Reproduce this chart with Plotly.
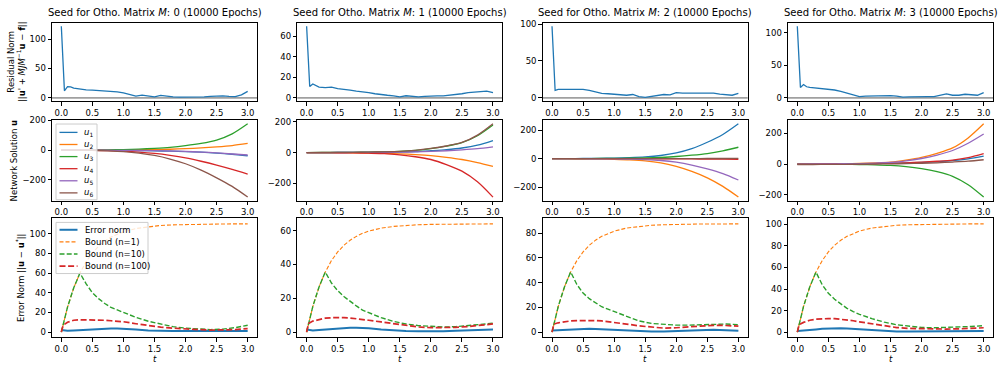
import plotly.graph_objects as go

W, H = 1000, 368
FONT = "DejaVu Sans"
BLUE, ORANGE, GREEN, RED, PURPLE, BROWN = "#1f77b4", "#ff7f0e", "#2ca02c", "#d62728", "#9467bd", "#8c564b"
SOL_COLORS = [BLUE, ORANGE, GREEN, RED, PURPLE, BROWN]

# ---------------- data ----------------
seeds = [0, 1, 2, 3]
epochs = 10000

t_res = [0, 0.05, 0.1, 0.15, 0.2, 0.3, 0.4, 0.5, 0.6, 0.7, 0.8, 0.9, 1.0, 1.1, 1.2, 1.3, 1.4,
         1.5, 1.6, 1.7, 1.8, 1.9, 2.0, 2.1, 2.2, 2.3, 2.4, 2.5, 2.6, 2.7, 2.8, 2.9, 3.0]
res_seed0 = [122, 12, 19, 18.5, 16.5, 14.5, 13.5, 13, 12.5, 12, 11, 10, 8.5, 6, 3, 4.5, 2.5,
             1.5, 4, 2.5, 1.5, 1.2, 1, 1, 1.2, 1.5, 2.5, 3, 3.5, 2.5, 2, 5, 11]
res_seed1 = [70, 11, 13.5, 12, 10.5, 10, 10.5, 9, 8.5, 7.5, 6.5, 6, 5, 4, 3, 2.5, 2,
             1, 2, 1.5, 1, 1.5, 2, 2, 2, 2.5, 3.5, 4, 5, 5.5, 6, 6.5, 5]
res_seed2 = [97, 10, 11.5, 11.5, 11, 11, 10.5, 11.5, 10, 8, 6, 5.5, 5, 4.5, 3.5, 4.5, 1.5,
             0.5, 2, 3.5, 4.5, 4, 7, 6.5, 6.5, 7, 7, 7.5, 6.5, 5, 4, 3.5, 6]
res_seed3 = [110, 16, 20.5, 17, 16, 15, 14.5, 14, 12, 10, 7.5, 5, 2, 2.5, 3, 3, 3.5,
             3.5, 2.5, 1, 1.5, 2, 2, 2, 2, 4, 6, 4, 4, 5.5, 5, 4, 8]

t_sol = [0, 0.25, 0.5, 0.75, 1.0, 1.25, 1.5, 1.75, 2.0, 2.25, 2.5, 2.75, 3.0]
sol_labels = ["<i>u</i><sub>1</sub>", "<i>u</i><sub>2</sub>", "<i>u</i><sub>3</sub>",
              "<i>u</i><sub>4</sub>", "<i>u</i><sub>5</sub>", "<i>u</i><sub>6</sub>"]
sol_seed0 = [
    [0, 0, -0.5, -1, -2, -3, -5, -7, -10, -14, -20, -28, -38],
    [0, 0.5, 1, 1.5, 2, 3, 4, 6, 10, 15, 22, 31, 45],
    [0, 0.5, 1, 2, 4, 7, 12, 19, 30, 45, 68, 110, 178],
    [0, -0.5, -1.5, -3.5, -7, -13, -22, -35, -52, -75, -101, -130, -162],
    [0, 0, -0.5, -1, -1.5, -2.5, -4, -6, -9, -13, -19, -26, -33],
    [0, -1, -2, -5, -10, -20, -36, -60, -92, -135, -187, -245, -317],
]
sol_seed1 = [
    [0, 0, 0.5, 1, 1.5, 2.5, 4, 6, 12, 19, 30, 48, 78],
    [0, -0.5, -1, -1.5, -3, -5, -8, -13, -20, -31, -45, -65, -90],
    [0, 0.5, 1, 1.5, 3, 5, 8, 15, 26, 42, 65, 110, 180],
    [0, -0.5, -1, -2, -4, -7, -15, -27, -45, -78, -121, -190, -290],
    [0, 0, 0.5, 1, 1.5, 2, 3, 5, 8, 12, 18, 26, 38],
    [0, 0.5, 1, 1.5, 3, 5, 8, 15, 27, 43, 66, 114, 188],
]
sol_seed2 = [
    [0, 0.5, 1, 2, 4, 7, 12, 22, 40, 70, 115, 170, 245],
    [0, -0.5, -1, -2, -5, -9, -16, -30, -55, -90, -135, -195, -270],
    [0, 0, 0.5, 1, 2, 3, 5, 9, 15, 24, 36, 55, 80],
    [0, 0, 0, 0, -0.5, -0.5, -1, -1, -2, -2, -3, -4, -5],
    [0, 0, -0.5, -1, -2, -4, -7, -13, -25, -45, -72, -105, -150],
    [0, 0, 0, 0, 0, 0, 0, 0, 0.5, 0.5, 1, 1, 2],
]
sol_seed3 = [
    [0, 0, 0.5, 1, 2, 3, 5, 7, 10, 15, 22, 34, 52],
    [0, 0.5, 1, 2, 4, 7, 12, 25, 43, 70, 105, 170, 262],
    [0, -0.5, -1, -2, -3, -5, -9, -17, -30, -50, -80, -135, -215],
    [0, 0, 0.5, 1, 2, 3, 5, 8, 12, 18, 26, 42, 68],
    [0, 0.5, 1, 2, 3, 6, 10, 20, 36, 58, 88, 135, 195],
    [-3, -3, -2.5, -2, -1, 0, 1, 3, 5, 8, 13, 19, 28],
]

t_err = [0, 0.03, 0.1, 0.2, 0.3, 0.4, 0.5, 0.6, 0.7, 0.8, 0.9, 1.0, 1.2, 1.4, 1.6, 1.8, 2.0,
         2.2, 2.4, 2.6, 2.8, 3.0]
err_labels = ["Error norm", "Bound (n=1)", "Bound (n=10)", "Bound (n=100)"]
err_seed0 = [
    [2, 1.8, 1.4, 1.6, 2.0, 2.5, 3.0, 3.3, 3.5, 3.6, 3.6, 3.5, 2.6, 1.6, 1.1, 1.0, 1.0, 1.0, 1.0, 1.0, 1.0, 1.0],
    [0, 8.4, 25.4, 45, 60, 71.6, 80.4, 87.3, 92.5, 96.6, 99.7, 102, 105.3, 107.2, 108.4, 109, 109.4, 109.7, 109.8, 109.9, 110, 110],
    [0, 8.4, 25.4, 45, 60, 49, 40, 34, 29, 25, 22.5, 20, 15, 11, 8, 5.5, 4, 3, 2.5, 3, 4.5, 7],
    [0, 7, 10, 12, 12.5, 12.5, 12.5, 12, 12, 11.5, 11, 10.5, 8.5, 6.5, 5, 4, 3, 2.5, 2, 2, 2.5, 3.5],
]
err_seed1 = [
    [1.5, 1.3, 1.0, 1.3, 1.6, 2.0, 2.2, 2.5, 2.5, 2.5, 2.4, 2.2, 1.5, 1.0, 0.7, 0.5, 0.4, 0.5, 0.8, 1.0, 1.3, 1.5],
    [0, 5.0, 15.2, 26.7, 35.5, 42.3, 47.4, 51.3, 54.3, 56.6, 58.4, 59.7, 61.5, 62.5, 63.2, 63.5, 63.7, 63.8, 63.9, 64, 64, 64],
    [0, 5.0, 15.2, 26.7, 35.5, 29, 24.5, 21, 18, 15.5, 13, 11.5, 8.5, 6.3, 4.8, 3.8, 3.2, 3, 3.2, 3.8, 4.5, 5.2],
    [0, 5, 6.5, 7.5, 8.2, 8.5, 8.6, 8.5, 8.3, 8, 7.5, 7, 6, 5, 4, 3, 2.6, 2.5, 2.8, 3.3, 4, 4.8],
]
err_seed2 = [
    [1.2, 1.3, 1.5, 1.8, 2.0, 2.3, 2.5, 2.6, 2.5, 2.2, 1.9, 1.6, 1.2, 0.8, 0.4, 0.5, 0.8, 1.2, 1.6, 1.8, 1.5, 1.0],
    [0, 6.8, 20.7, 36.5, 48.6, 57.8, 64.8, 70.2, 74.3, 77.4, 79.8, 81.6, 84.1, 85.5, 86.4, 86.8, 87.1, 87.3, 87.4, 87.4, 87.5, 87.5],
    [0, 6.8, 20.7, 36.5, 48.6, 38.5, 31.5, 27, 23.5, 20.5, 18.5, 16.5, 12.5, 9, 7, 6, 5.6, 5.6, 6, 6.5, 6.5, 6],
    [0, 6.5, 7.5, 8.5, 9, 9.3, 9.5, 9.5, 9.3, 9, 8.5, 7.8, 6.5, 5, 3.8, 3.2, 3.5, 4.2, 5, 5.5, 5.3, 4.8],
]
err_seed3 = [
    [1.0, 1.2, 1.5, 2.0, 2.5, 3.0, 3.4, 3.5, 3.5, 3.3, 3.0, 2.5, 1.5, 0.8, 0.5, 0.5, 0.5, 0.5, 0.6, 0.7, 0.8, 1.0],
    [0, 7.8, 23.8, 41.9, 55.8, 66.3, 74.5, 80.6, 85.3, 88.9, 91.7, 93.8, 96.6, 98.2, 99.2, 99.7, 100.0, 100.2, 100.3, 100.4, 100.5, 100.5],
    [0, 7.8, 23.8, 41.9, 55.8, 44, 36, 30.5, 26, 22, 19, 16.5, 12.5, 9.2, 6.8, 5.2, 4.3, 4, 4.2, 4.6, 5.2, 6],
    [0, 7, 9, 11, 12, 12.5, 12.5, 12.5, 12, 11.5, 10.5, 9.5, 7.5, 5.5, 4.2, 3.4, 3, 2.8, 2.8, 3, 3.5, 4],
]

res_all = [res_seed0, res_seed1, res_seed2, res_seed3]
sol_all = [sol_seed0, sol_seed1, sol_seed2, sol_seed3]
err_all = [err_seed0, err_seed1, err_seed2, err_seed3]
res_dtick = [50, 20, 50, 50]
sol_dtick = [200, 200, 200, 200]
err_dtick = [20, 20, 20, 20]
x_ticks = [0, 0.5, 1.0, 1.5, 2.0, 2.5, 3.0]

# ---------------- layout helpers ----------------
col_px = [52, 297.3, 542.7, 788]
col_w = 205
row_px = [(18, 98), (117, 199), (217, 338)]

err_styles = [(BLUE, 2.0, None), (ORANGE, 1.1, "4px,2px"), (GREEN, 1.4, "5px,2.2px"), (RED, 1.7, "6px,2.6px")]


def px(x):
    return x / W


def py(y):
    return 1 - y / H


def pad_range(vals):
    lo, hi = min(vals), max(vals)
    span = hi - lo
    return [lo - 0.05 * span, hi + 0.05 * span]


fig = go.Figure()
layout = {}
shapes = []
annotations = []

axis_common = dict(showline=True, mirror=True, linecolor="black", linewidth=1,
                   ticks="outside", ticklen=3.5, tickwidth=0.8, tickcolor="black",
                   showgrid=False, zeroline=False,
                   tickfont=dict(family=FONT, size=8.5, color="black"))


def sfx(idx):
    return "" if idx == 1 else str(idx)


for r in range(3):
    for c in range(4):
        idx = r * 4 + c + 1
        xa, ya = "x" + sfx(idx), "y" + sfx(idx)
        if r == 0:
            series = [(t_res, res_all[c][:], BLUE, 1.3, None)]
            yvals = res_all[c] + [0]
            dt = res_dtick[c]
            shapes.append(dict(type="line", xref=xa + " domain", yref=ya, x0=0, x1=1, y0=0, y1=0,
                               line=dict(color="#a0a0a0", width=1.6), layer="below"))
        elif r == 1:
            series = [(t_sol, s, SOL_COLORS[k], 1.3, None) for k, s in enumerate(sol_all[c])]
            yvals = [v for s in sol_all[c] for v in s]
            dt = sol_dtick[c]
        else:
            series = [(t_err, s, err_styles[k][0], err_styles[k][1], err_styles[k][2])
                      for k, s in enumerate(err_all[c])]
            yvals = [v for s in err_all[c] for v in s]
            dt = err_dtick[c]
        for (tx, ty, col, lw, dash) in series:
            line = dict(color=col, width=lw)
            if dash:
                line["dash"] = dash
            if r == 1:
                line["shape"] = "spline"
                line["smoothing"] = 0.8
            fig.add_trace(go.Scatter(x=tx, y=ty, mode="lines", line=line, xaxis=xa, yaxis=ya,
                                     showlegend=False, hoverinfo="skip"))
        layout["xaxis" + sfx(idx)] = dict(axis_common, domain=[px(col_px[c]), px(col_px[c] + col_w)],
                                         range=[-0.15, 3.15], tickvals=x_ticks, tickformat=".1f",
                                         anchor=ya)
        layout["yaxis" + sfx(idx)] = dict(axis_common, domain=[py(row_px[r][1]), py(row_px[r][0])],
                                         range=pad_range(yvals), tick0=0, dtick=dt, anchor=xa)

# titles
for c in range(4):
    annotations.append(dict(text=f"Seed for Otho. Matrix <i>M</i>: {seeds[c]} ({epochs} Epochs)",
                            x=px(col_px[c] + col_w / 2), y=py(8), xref="paper", yref="paper",
                            showarrow=False, xanchor="center", yanchor="middle",
                            font=dict(family=FONT, size=10, color="black")))
    annotations.append(dict(text="<i>t</i>", x=px(col_px[c] + col_w / 2), y=py(360), xref="paper",
                            yref="paper", showarrow=False, xanchor="center", yanchor="middle",
                            font=dict(family=FONT, size=8.5, color="black")))

# y labels
ylabels = [
    ("Residual Norm<br>||<b>u</b>' + <i>MJM</i><sup>−1</sup><b>u</b> − <b>f</b>||", 16),
    ("Network Solution <b>u</b>", 14),
    ("Error Norm ||<b>u</b> − <b>u</b><sup>*</sup>||", 20),
]
for r, (txt, xpos) in enumerate(ylabels):
    annotations.append(dict(text=txt, x=px(xpos), y=py((row_px[r][0] + row_px[r][1]) / 2),
                            xref="paper", yref="paper", showarrow=False, textangle=-90,
                            xanchor="center", yanchor="middle",
                            font=dict(family=FONT, size=8.5, color="black")))


# manual legends
def add_legend(box, entries, y0, dy, line_x, text_x):
    shapes.append(dict(type="rect", xref="paper", yref="paper", x0=px(box[0]), x1=px(box[2]),
                       y0=py(box[3]), y1=py(box[1]), fillcolor="rgba(255,255,255,0.8)",
                       line=dict(color="#cccccc", width=1), layer="above"))
    for k, (label, col, lw, dash) in enumerate(entries):
        yy = y0 + k * dy
        ln = dict(color=col, width=lw)
        if dash:
            ln["dash"] = dash
        shapes.append(dict(type="line", xref="paper", yref="paper", x0=px(line_x[0]), x1=px(line_x[1]),
                           y0=py(yy), y1=py(yy), line=ln, layer="above"))
        annotations.append(dict(text=label, x=px(text_x), y=py(yy), xref="paper", yref="paper",
                                showarrow=False, xanchor="left", yanchor="middle",
                                font=dict(family=FONT, size=8.5, color="black")))


add_legend((56, 121, 97, 198), [(sol_labels[k], SOL_COLORS[k], 1.3, None) for k in range(6)],
           129.5, 12.3, (59.5, 77.5), 81.5)
add_legend((56, 221, 148, 273), [(err_labels[k],) + err_styles[k] for k in range(4)],
           228.5, 12.3, (59.5, 77.5), 83)

fig.update_layout(width=W, height=H, margin=dict(l=0, r=0, t=0, b=0), plot_bgcolor="white",
                  paper_bgcolor="white", showlegend=False, shapes=shapes, annotations=annotations,
                  font=dict(family=FONT, color="black"), **layout)

fig.write_html("out.html", config={"displayModeBar": False},
               post_script="document.body.style.margin='0';document.body.style.padding='0';"
                           "document.body.style.overflow='hidden';")
